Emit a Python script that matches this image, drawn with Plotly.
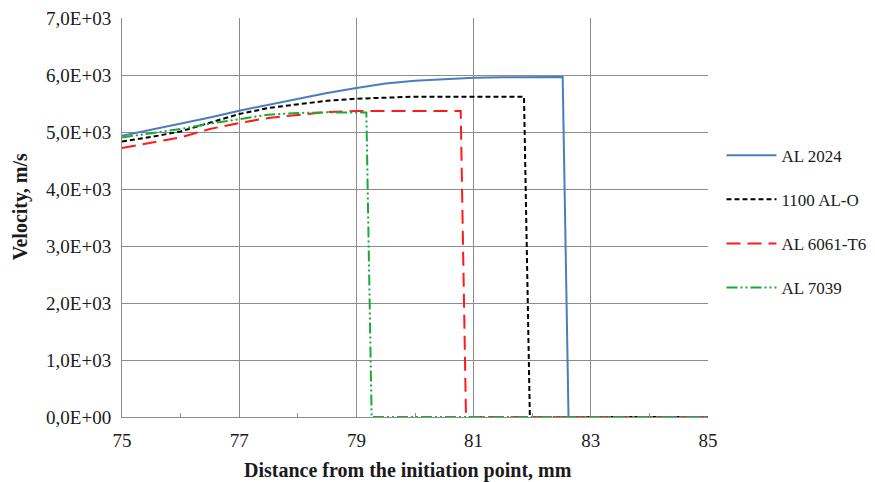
import plotly.graph_objects as go

# ---- data ----
series_names = ["AL 2024", "1100 AL-O", "AL 6061-T6", "AL 7039"]

al2024_x = [75, 75.5, 76, 76.5, 77, 77.5, 78, 78.5, 79, 79.5, 80, 80.5, 81, 81.5, 82, 82.52, 82.62, 85]
al2024_y = [4935, 5040, 5158, 5256, 5374, 5479, 5584, 5684, 5772, 5850, 5900, 5930, 5953, 5962, 5965, 5965, 0, 0]

al1100_x = [75, 75.5, 76, 76.5, 77, 77.5, 78, 78.5, 79, 79.5, 79.7, 80, 81, 81.86, 81.96, 85]
al1100_y = [4835, 4912, 5010, 5158, 5316, 5421, 5491, 5549, 5584, 5605, 5620, 5620, 5620, 5620, 0, 0]

al6061_x = [75, 75.5, 76, 76.5, 77, 77.5, 78, 78.5, 79, 80, 80.78, 80.87, 85]
al6061_y = [4719, 4807, 4905, 5053, 5158, 5246, 5304, 5351, 5368, 5368, 5368, 0, 0]

al7039_x = [75, 75.5, 76, 76.5, 77, 77.5, 78, 78.5, 79, 79.17, 79.26, 85]
al7039_y = [4905, 4982, 5053, 5146, 5228, 5304, 5333, 5345, 5340, 5340, 0, 0]

y_tickvals = [0, 1000, 2000, 3000, 4000, 5000, 6000, 7000]
y_ticktext = ["0,0E+00", "1,0E+03", "2,0E+03", "3,0E+03", "4,0E+03", "5,0E+03", "6,0E+03", "7,0E+03"]
x_tickvals = [75, 77, 79, 81, 83, 85]
x_ticktext = ["75", "77", "79", "81", "83", "85"]

x_title = "Distance from the initiation point, mm"
y_title = "Velocity, m/s"

# ---- figure ----
FONT = "Liberation Serif, Times New Roman, serif"
GRID = "#8c8c8c"
TXT = "#1a1a1a"

styles = [
    dict(color="#4a7ebb", width=2, dash="solid"),
    dict(color="#000000", width=2, dash="5px,3px"),
    dict(color="#ff1a1a", width=2, dash="14px,7px"),
    dict(color="#1aaa3a", width=2, dash="11px,3px,2px,3px,2px,3px"),
]
data = [(al2024_x, al2024_y), (al1100_x, al1100_y), (al6061_x, al6061_y), (al7039_x, al7039_y)]

fig = go.Figure()
for i, (name, (xs, ys), st) in enumerate(zip(series_names, data, styles)):
    fig.add_trace(go.Scatter(x=xs, y=ys, mode="lines", name=name, line=st,
                             legendgroup=f"g{i}"))

fig.update_layout(
    width=867, height=474,
    margin=dict(l=114, r=167, t=10, b=65, autoexpand=False),
    paper_bgcolor="white", plot_bgcolor="white",
    font=dict(family=FONT, size=19, color=TXT),
    showlegend=True,
    legend=dict(x=1.023, xanchor="left", y=0.70, yanchor="top",
                font=dict(family=FONT, size=17, color=TXT),
                tracegroupgap=19, itemwidth=50, bgcolor="rgba(0,0,0,0)",
                traceorder="grouped"),
    xaxis=dict(range=[75, 85], tickvals=x_tickvals, ticktext=x_ticktext,
               showgrid=True, gridcolor=GRID, gridwidth=1,
               showline=True, linecolor=GRID, linewidth=1, mirror=False,
               zeroline=False, ticks="", ticklabelstandoff=6,
               ticklabeloverflow="allow",
               minor=dict(tickvals=[76, 78, 80, 82, 84], ticks="inside", ticklen=4,
                          tickcolor=GRID, showgrid=False),
               tickfont=dict(family=FONT, size=19)),
    yaxis=dict(range=[0, 7000], tickvals=y_tickvals, ticktext=y_ticktext,
               showgrid=True, gridcolor=GRID, gridwidth=1,
               showline=True, linecolor=GRID, linewidth=1,
               zeroline=False, ticks="", ticklabelstandoff=6,
               ticklabeloverflow="allow",
               tickfont=dict(family=FONT, size=19)),
    annotations=[
        dict(text=f"<b>{x_title}</b>", xref="paper", yref="paper", x=0.488, y=-0.135,
             xanchor="center", yanchor="middle", showarrow=False,
             font=dict(family=FONT, size=20, color=TXT)),
        dict(text=f"<b>{y_title}</b>", xref="paper", yref="paper", x=-0.174, y=0.526,
             xanchor="center", yanchor="middle", showarrow=False, textangle=-90,
             font=dict(family=FONT, size=20, color=TXT)),
    ],
)

fig.write_html("out.html")
